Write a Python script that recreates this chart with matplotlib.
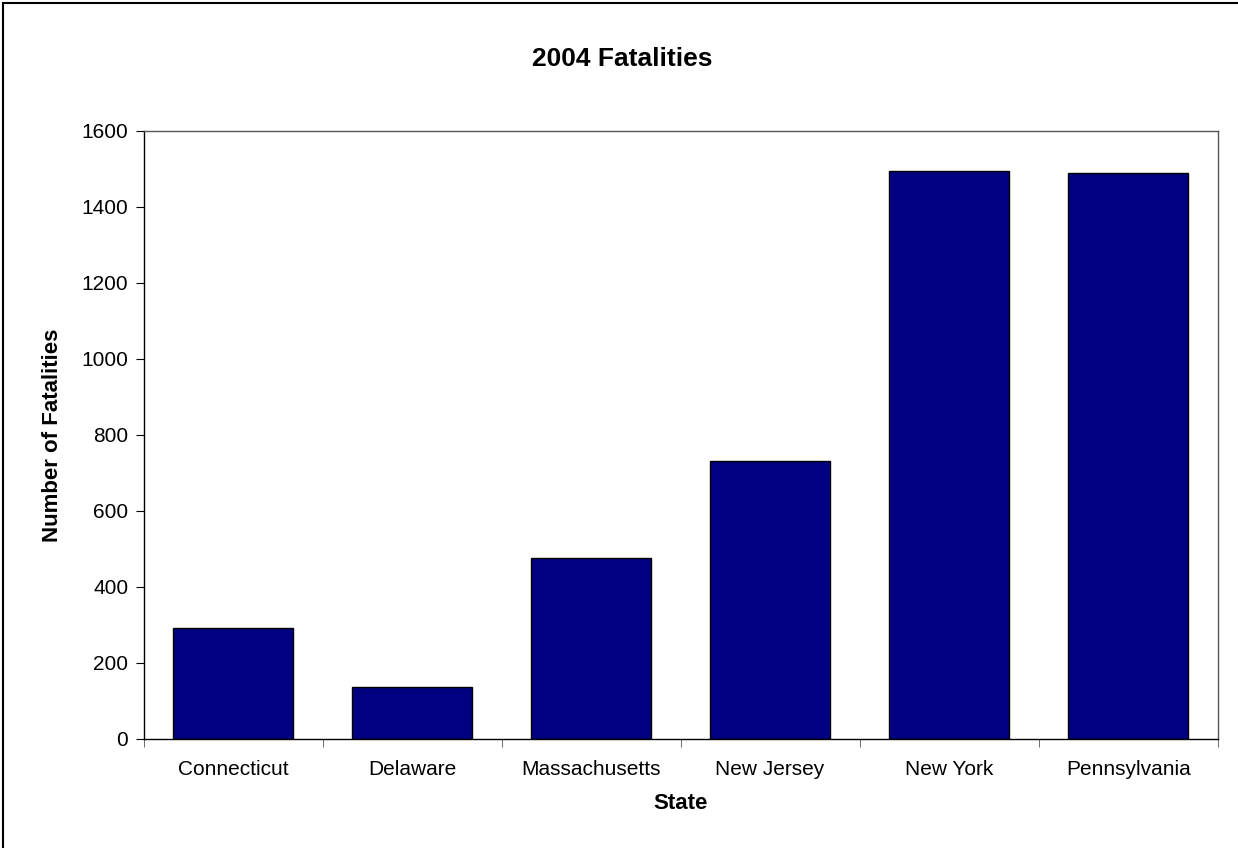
import numpy as np
import matplotlib.pyplot as plt
from matplotlib.lines import Line2D

states = ['Connecticut', 'Delaware', 'Massachusetts', 'New Jersey', 'New York', 'Pennsylvania']
fatalities = [291, 136, 476, 731, 1493, 1489]
yticks = [0, 200, 400, 600, 800, 1000, 1200, 1400, 1600]

plt.rcParams['font.family'] = ['Liberation Sans', 'DejaVu Sans']

fig = plt.figure(figsize=(12.38, 8.48), dpi=100)
ax = fig.add_axes([143.5 / 1238, 1 - 739 / 848, (1217.7 - 143.5) / 1238, (739 - 130.7) / 848])

x = np.arange(len(states))
ax.bar(x, fatalities, width=0.67, color='#000080', edgecolor='black', linewidth=1)

ax.set_xlim(-0.5, len(states) - 0.5)
ax.set_ylim(0, 1600)
ax.set_yticks(yticks)
ax.set_xticks(x)
ax.set_xticklabels(states, fontsize=15)
ax.set_xticks(np.arange(len(states) + 1) - 0.5, minor=True)
ax.tick_params(axis='x', which='major', length=0, pad=15)
ax.tick_params(axis='x', which='minor', length=6, direction='out', color='#555555')
ax.tick_params(axis='y', length=6, direction='out', labelsize=15, pad=5)

for side in ['top', 'right']:
    ax.spines[side].set_color('#555555')
for spine in ax.spines.values():
    spine.set_linewidth(1)

ax.set_xlabel('State', fontsize=16, fontweight='bold', labelpad=10)
ax.set_ylabel('Number of Fatalities', fontsize=16, fontweight='bold', labelpad=13)
fig.text(0.503, 1 - 59 / 848, '2004 Fatalities', ha='center', va='center', fontsize=19, fontweight='bold')

# chart frame, only left and top edges show in the image
fig.add_artist(Line2D([3 / 1238, 3 / 1238], [0, 1 - 3 / 848], transform=fig.transFigure, color='black', linewidth=1.5))
fig.add_artist(Line2D([3 / 1238, 1], [1 - 3 / 848, 1 - 3 / 848], transform=fig.transFigure, color='black', linewidth=1.5))

fig.savefig('out.png', dpi=100)
